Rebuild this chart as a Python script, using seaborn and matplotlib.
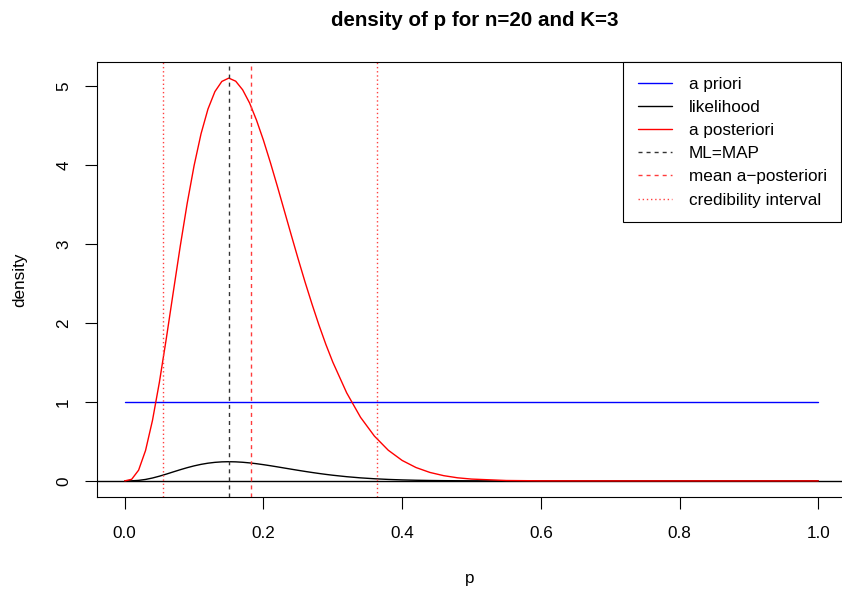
import matplotlib
matplotlib.use("Agg")
import matplotlib.pyplot as plt
import numpy as np
import pandas as pd
import seaborn as sns

# values
p_grid = [0.00, 0.01, 0.02, 0.03, 0.04, 0.05, 0.06, 0.07, 0.08, 0.09,
          0.10, 0.11, 0.12, 0.13, 0.14, 0.15, 0.16, 0.17, 0.18, 0.19,
          0.20, 0.21, 0.22, 0.23, 0.24, 0.25, 0.26, 0.27, 0.28, 0.29,
          0.30, 0.32, 0.34, 0.36, 0.38, 0.40, 0.42, 0.44, 0.46, 0.48,
          0.50, 0.55, 0.60, 0.70, 0.80, 0.90, 1.00]
prior = [1.0] * len(p_grid)
likelihood = [0.0, 0.001, 0.0065, 0.0183, 0.0365, 0.0596, 0.086, 0.1139, 0.1414, 0.1672,
              0.1901, 0.2093, 0.2242, 0.2347, 0.2409, 0.2429, 0.241, 0.2358, 0.2279, 0.2175,
              0.2054, 0.192, 0.1777, 0.163, 0.1484, 0.1339, 0.1199, 0.1066, 0.094, 0.0823,
              0.0716, 0.0531, 0.0383, 0.027, 0.0185, 0.0123, 0.008, 0.0051, 0.0031, 0.0019,
              0.0011, 0.0002, 0.0, 0.0, 0.0, 0.0, 0.0]
posterior = [0.0, 0.020, 0.136, 0.385, 0.766, 1.251, 1.806, 2.391, 2.970, 3.512,
             3.992, 4.395, 4.708, 4.929, 5.058, 5.100, 5.061, 4.952, 4.785, 4.567,
             4.313, 4.031, 3.732, 3.424, 3.116, 2.812, 2.518, 2.239, 1.974, 1.728,
             1.504, 1.115, 0.805, 0.567, 0.388, 0.259, 0.169, 0.107, 0.066, 0.039,
             0.023, 0.005, 0.001, 0.0, 0.0, 0.0, 0.0]
ml_map = 0.15
post_mean = 0.1818
cred_interval = [0.0545, 0.3635]

x_ticks = [0.0, 0.2, 0.4, 0.6, 0.8, 1.0]
x_ticklabels = ["0.0", "0.2", "0.4", "0.6", "0.8", "1.0"]
y_ticks = [0, 1, 2, 3, 4, 5]

df = pd.DataFrame({"p": p_grid, "prior": prior,
                   "likelihood": likelihood, "posterior": posterior})

sns.set_style("white")
plt.rcParams["font.family"] = ["Liberation Sans", "DejaVu Sans"]
plt.rcParams["text.color"] = "black"

W, H = 842, 589
fig = plt.figure(figsize=(W / 100, H / 100), dpi=100)
ax = fig.add_axes([97 / W, 1 - 497 / H, 749 / W, 435 / H])

lw = 1.0
fs = 12.3
# abline h=0
ax.axhline(0, color="black", lw=lw)
sns.lineplot(x="p", y="prior", data=df, ax=ax, color="blue", lw=lw)
sns.lineplot(x="p", y="likelihood", data=df, ax=ax, color="black", lw=lw)
sns.lineplot(x="p", y="posterior", data=df, ax=ax, color="red", lw=lw)

dashed = (0, (2.9, 2.9))
dotted = (0, (1, 2))
ax.axvline(ml_map, color="#333333", lw=lw, linestyle=dashed)
ax.axvline(post_mean, color="#ff3b3b", lw=lw, linestyle=dashed)
for v in cred_interval:
    ax.axvline(v, color="#ff4040", lw=lw, linestyle=dotted)

ax.set_xlim(-0.04, 1.04)
ax.set_ylim(-0.204, 5.304)
ax.set_xticks(x_ticks)
ax.set_xticklabels(x_ticklabels)
ax.set_yticks(y_ticks)
ax.set_yticklabels([str(v) for v in y_ticks], rotation=90, va="center")

for s in ax.spines.values():
    s.set_color("black")
    s.set_linewidth(0.8)
ax.tick_params(axis="x", bottom=True, length=8.6, width=0.8, pad=12, labelsize=fs, colors="black")
ax.tick_params(axis="y", left=True, length=8.6, width=0.8, pad=10, labelsize=fs, colors="black")
ax.set_xlabel("")
ax.set_ylabel("")

fig.text(474.5 / W, 1 - 26 / H, "density of p for n=20 and K=3", fontweight="bold",
         fontsize=14.75, ha="center", va="baseline")
fig.text(470 / W, 1 - 583 / H, "p", fontsize=fs, ha="center", va="baseline")
fig.text(24 / W, 1 - 279.5 / H, "density", fontsize=fs, rotation=90,
         rotation_mode="anchor", ha="center", va="baseline")

## proxy artists for legend
handles = [
    plt.Line2D((0, 1), (0, 0), color="blue", lw=lw),
    plt.Line2D((0, 1), (0, 0), color="black", lw=lw),
    plt.Line2D((0, 1), (0, 0), color="red", lw=lw),
    plt.Line2D((0, 1), (0, 0), color="#333333", lw=lw, linestyle=dashed),
    plt.Line2D((0, 1), (0, 0), color="#ff3b3b", lw=lw, linestyle=dashed),
    plt.Line2D((0, 1), (0, 0), color="#ff4040", lw=lw, linestyle=dotted),
]
labels = ["a priori", "likelihood", "a posteriori", "ML=MAP",
          "mean a\u2212posteriori", "credibility interval"]
leg = ax.legend(handles, labels, loc="upper left",
                bbox_to_anchor=(623 / W, 1 - 62 / H), bbox_transform=fig.transFigure,
                borderaxespad=0, fontsize=fs, frameon=True, fancybox=False,
                edgecolor="black", framealpha=1, borderpad=0.85, labelspacing=0.48,
                handlelength=2.0, handletextpad=1.0)
leg.get_frame().set_linewidth(0.8)

fig.savefig("out.png", dpi=100)
